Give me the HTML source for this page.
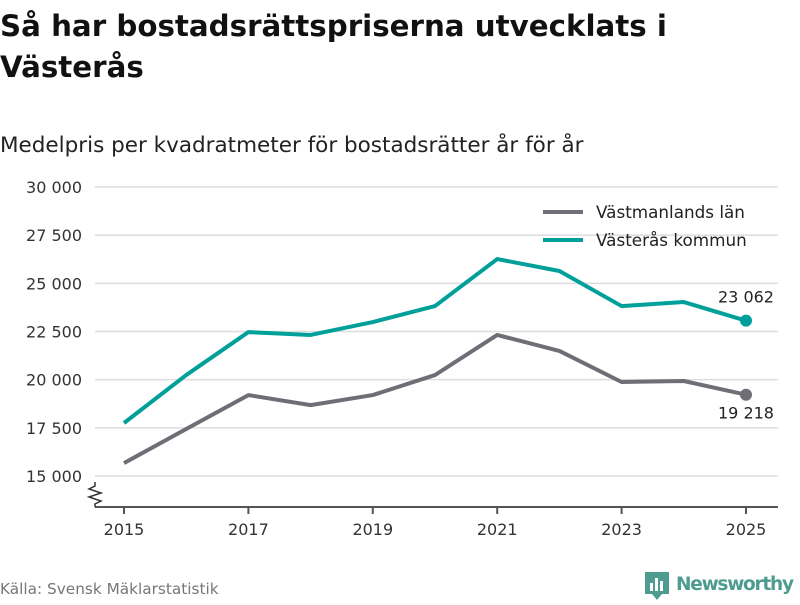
<!DOCTYPE html>
<html><head><meta charset="utf-8"><style>
body{margin:0;width:800px;height:600px;background:#fff;font-family:"Liberation Sans","DejaVu Sans",sans-serif;overflow:hidden}
</style></head><body>
<svg width="800" height="600" font-family="'DejaVu Sans','Liberation Sans',sans-serif">
<text x="0" y="36" font-size="29.3" font-weight="bold" fill="#111">Så har bostadsrättspriserna utvecklats i</text>
<text x="0" y="77" font-size="29.3" font-weight="bold" fill="#111">Västerås</text>
<text x="0" y="152" font-size="21.5" fill="#222">Medelpris per kvadratmeter för bostadsrätter år för år</text>
<g id="grid"></g><g id="series"></g>
<line x1="95" y1="507" x2="778" y2="507" stroke="#555" stroke-width="2"/>
<polyline points="95,482 95,486 89,489 101,493 89,497 101,501 95,504 95,507" fill="none" stroke="#333" stroke-width="1.5"/>
<g>
<line x1="543" y1="212" x2="583" y2="212" stroke="#6e6e76" stroke-width="4"/>
<text x="596" y="218" font-size="16.8" fill="#222">Västmanlands län</text>
<line x1="543" y1="240" x2="583" y2="240" stroke="#00a09a" stroke-width="4"/>
<text x="596" y="246" font-size="16.8" fill="#222">Västerås kommun</text>
</g>
<text x="0" y="594" font-size="15.3" fill="#777">Källa: Svensk Mäklarstatistik</text>
<g>
<path d="M645 572h24v22h-7l-5 6-5-6h-7z" fill="#4e9c8f"/>
<rect x="650" y="583" width="3" height="8" fill="#fff"/><rect x="655" y="578" width="3" height="13" fill="#fff"/><rect x="660" y="581" width="3" height="10" fill="#fff"/>
<text x="676" y="590" font-size="18.5" font-weight="bold" fill="#4e9c8f" textLength="118">Newsworthy</text>
</g>
</svg>
<script>
const years=[2015,2016,2017,2018,2019,2020,2021,2022,2023,2024,2025];
const lanValues=[15670,17440,19200,18680,19200,20240,22320,21490,19880,19930,19218];
const kommunValues=[17750,20240,22470,22320,22990,23820,26260,25640,23820,24030,23062];
const yTicks=[15000,17500,20000,22500,25000,27500,30000];
const yTickLabels=["15 000","17 500","20 000","22 500","25 000","27 500","30 000"];
const xTickYears=[2015,2017,2019,2021,2023,2025];
const endLabels=["19 218","23 062"];
const NS="http://www.w3.org/2000/svg";
const xs=y=>124+(y-2015)*62.2;
const ys=v=>476-(v-15000)*289/15000;
function mk(t,a,p){const e=document.createElementNS(NS,t);for(const k in a)e.setAttribute(k,a[k]);p.appendChild(e);return e;}
const g=document.getElementById('grid'),s=document.getElementById('series');
yTicks.forEach((v,i)=>{
 const l=mk('line',{x1:95,x2:778,y1:ys(v),y2:ys(v),stroke:'#ddd','stroke-width':1.5},g);
 
 
 const t=mk('text',{x:82,y:ys(v)+6,'text-anchor':'end','font-size':16,fill:'#333'},g);
 t.textContent=yTickLabels[i];
 
 
});
xTickYears.forEach(y=>{
 const l=mk('line',{x1:xs(y),x2:xs(y),y1:507,y2:514,stroke:'#555','stroke-width':2},g);
 
 
 const t=mk('text',{x:xs(y),y:535,'text-anchor':'middle','font-size':16,fill:'#333'},g);
 t.textContent=y;
 
 
});
[[lanValues,'#6e6e76','line-vastmanland',24],[kommunValues,'#00a09a','line-vasteras',-18]].forEach(([vals,c,n,off],k)=>{
 const p=mk('polyline',{points:vals.map((v,i)=>xs(years[i])+','+ys(v)).join(' '),fill:'none',stroke:c,'stroke-width':4,'stroke-linejoin':'round'},s);
 
 
 const last=vals.length-1;
 const d=mk('circle',{cx:xs(years[last]),cy:ys(vals[last]),r:6,fill:c},s);
 
 
 const t=mk('text',{x:xs(years[last]),y:ys(vals[last])+off,'text-anchor':'middle','font-size':16,fill:'#222'},s);
 t.textContent=endLabels[k];
 
 
});
</script>
</body></html>
